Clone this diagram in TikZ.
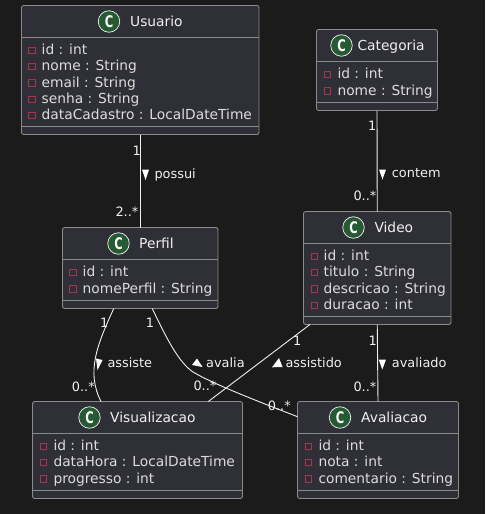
\documentclass[tikz,border=0pt]{standalone}
\usepackage{fontspec}
\usepackage{graphicx}
\setmainfont{DejaVu Sans}
\definecolor{pagebg}{HTML}{1B1B1B}
\definecolor{boxbg}{HTML}{2F2F37}
\definecolor{boxline}{HTML}{8A8A8A}
\definecolor{membertxt}{HTML}{DCDCDC}
\definecolor{labeltxt}{HTML}{F0F0F0}
\definecolor{privred}{HTML}{A8344E}
\definecolor{spotgreen}{HTML}{255A33}
\tikzset{
  classbox/.style={draw=boxline,fill=boxbg,line width=.9pt,rounded corners=2.2pt,inner sep=0pt,outer sep=0pt},
  divider/.style={draw=boxline,line width=.9pt},
  spot/.style={circle,draw=labeltxt,fill=spotgreen,line width=.7pt,minimum size=21.5pt,inner sep=0pt,text=white,font=\fontsize{16}{16}\selectfont\bfseries},
  titletxt/.style={anchor=base west,inner sep=0pt,text=labeltxt,font=\fontsize{13.8}{16}\selectfont},
  membertext/.style={anchor=base west,inner sep=0pt,text=membertxt,font=\fontsize{13.8}{16}\selectfont},
  privmark/.style={draw=privred,line width=.85pt,minimum size=6.2pt,inner sep=0pt,rectangle},
  linktxt/.style={anchor=base west,inner sep=0pt,text=labeltxt,font=\fontsize{12.9}{15}\selectfont},
  assoc/.style={draw=labeltxt,line width=.9pt},
  dirmark/.style={fill=white,draw=none},
}
% name, left, top, right, bottom, header line y, footer line y
\newcommand{\umlclass}[7]{%
  \node[classbox,minimum width={(#4-#2)*1pt},minimum height={(#5-#3)*1pt}] (#1) at ({(#2+#4)/2},{(#3+#5)/2}) {};
  \draw[divider] (#2,#6) -- (#4,#6);
  \draw[divider] (#2,#7) -- (#4,#7);
}
% name, circle x, circle y, text x, baseline, title
\newcommand{\umltitle}[6]{%
  \node[spot] (#1spot) at (#2,#3) {\scalebox{.72}[1]{C}};
  \node[titletxt] (#1title) at (#4,#5) {#6};
}
% name, marker centre x, text x, baseline, text
\newcommand{\umlmember}[5]{%
  \node[privmark] (#1mark) at (#2,{#4-4}) {};
  \node[membertext] (#1) at (#3,#4) {#5};
}
\begin{document}
\begin{tikzpicture}[x=1pt,y=-1pt]
\useasboundingbox[fill=pagebg] (0,0) rectangle (485,514);

\umlclass{usuario}{21.5}{5.5}{259}{134.5}{37.5}{126}
\umlclass{categoria}{316.5}{29.5}{437.5}{110.5}{61.5}{102}
\umlclass{video}{303.5}{211.5}{451}{324.5}{243.5}{316}
\umlclass{perfil}{62.5}{227.5}{218}{308.5}{259.5}{300}
\umlclass{visual}{32.5}{401.5}{242.5}{498.5}{433.5}{490}
\umlclass{avaliacao}{297.5}{401.5}{458.5}{498.5}{433.5}{490}

\draw[assoc] (usuario.south) -- (perfil.north);
\draw[assoc] (categoria.south) -- (video.north);
\draw[assoc] (video.south) -- (avaliacao.north);
\draw[assoc] ([xshift=-26.5pt]perfil.south) .. controls (97,345) and (86,372) .. ([xshift=-36.5pt]visual.north);
\draw[assoc] ([xshift=12pt]perfil.south) .. controls (165,335) and (178,362) .. (193,372) .. controls (215,385) and (265,404) .. ([yshift=33.3pt]avaliacao.west);
\draw[assoc] ([xshift=-67.3pt]video.south) -- ([xshift=70.8pt]visual.north);

% Usuario
\umltitle{usuario}{109}{21.5}{130}{26.5}{Usuario}
\umlmember{uid}{32}{41.5}{54.3}{id : int}
\umlmember{unome}{32}{41.5}{70.5}{nome : String}
\umlmember{uemail}{32}{41.5}{87}{email : String}
\umlmember{usenha}{32}{41.5}{103.2}{senha : String}
\umlmember{udata}{32}{41.5}{119.4}{dataCadastro : LocalDateTime}
% Categoria
\umltitle{categoria}{341.5}{45.5}{357.3}{50.5}{Categoria}
\umlmember{cid}{327.5}{337.3}{78.3}{id : int}
\umlmember{cnome}{327.5}{337.3}{95}{nome : String}
% Video
\umltitle{video}{353.5}{227.5}{374.3}{232.5}{Video}
\umlmember{vid}{314.5}{323.5}{260.3}{id : int}
\umlmember{vtitulo}{314.5}{323.5}{276.5}{titulo : String}
\umlmember{vdescricao}{314.5}{323.5}{293}{descricao : String}
\umlmember{vduracao}{314.5}{323.5}{309.2}{duracao : int}
% Perfil
\umltitle{perfil}{118.5}{243.5}{139}{248.5}{Perfil}
\umlmember{pid}{73}{82.5}{276.3}{id : int}
\umlmember{pnome}{73}{82.5}{293}{nomePerfil : String}
% Visualizacao
\umltitle{visual}{89.5}{417.5}{110}{422.5}{Visualizacao}
\umlmember{wid}{43.5}{53.3}{450.3}{id : int}
\umlmember{wdata}{43.5}{53.3}{466.5}{dataHora : LocalDateTime}
\umlmember{wprog}{43.5}{53.3}{483}{progresso : int}
% Avaliacao
\umltitle{avaliacao}{340}{417.5}{361}{422.5}{Avaliacao}
\umlmember{aid}{308.5}{318.3}{450.3}{id : int}
\umlmember{anota}{308.5}{318.3}{466.5}{nota : int}
\umlmember{acoment}{308.5}{318.3}{483}{comentario : String}

% direction marks
\fill[dirmark] (142,169.5) -- (149,169.5) -- (145.5,180) -- cycle;
\fill[dirmark] (379,169.5) -- (386,169.5) -- (382.5,179.5) -- cycle;
\fill[dirmark] (378.7,359.5) -- (386,359.5) -- (382.3,369.5) -- cycle;
\fill[dirmark] (96,358.5) -- (102.5,360) -- (97.5,370) -- cycle;
\fill[dirmark] (197,358.5) -- (202.5,367) -- (192,365) -- cycle;
\fill[dirmark] (279,358) -- (282.5,367) -- (272,367.3) -- cycle;

% link labels
\node[linktxt] (lpossui) at (154.3,178.5) {possui};
\node[linktxt] (lcontem) at (391.7,177.7) {contem};
\node[linktxt] (lassiste) at (107.3,367.7) {assiste};
\node[linktxt] (lavalia) at (206,367.7) {avalia};
\node[linktxt] (lassistido) at (285.3,367.7) {assistido};
\node[linktxt] (lavaliado) at (391.7,367.7) {avaliado};
% multiplicities
\node[linktxt] (m1) at (132.5,155) {1};
\node[linktxt] (m2) at (115.3,216.7) {2..*};
\node[linktxt] (m3) at (368,130) {1};
\node[linktxt] (m4) at (353.3,200) {0..*};
\node[linktxt] (m5) at (100,327.7) {1};
\node[linktxt] (m6) at (71.7,391) {0..*};
\node[linktxt] (m7) at (145.7,327.7) {1};
\node[linktxt] (m8) at (193.3,390.5) {0..*};
\node[linktxt] (m9) at (293,345) {1};
\node[linktxt] (m10) at (267.7,410.7) {0..*};
\node[linktxt] (m11) at (368.5,345) {1};
\node[linktxt] (m12) at (353.3,391) {0..*};
\end{tikzpicture}
\end{document}
